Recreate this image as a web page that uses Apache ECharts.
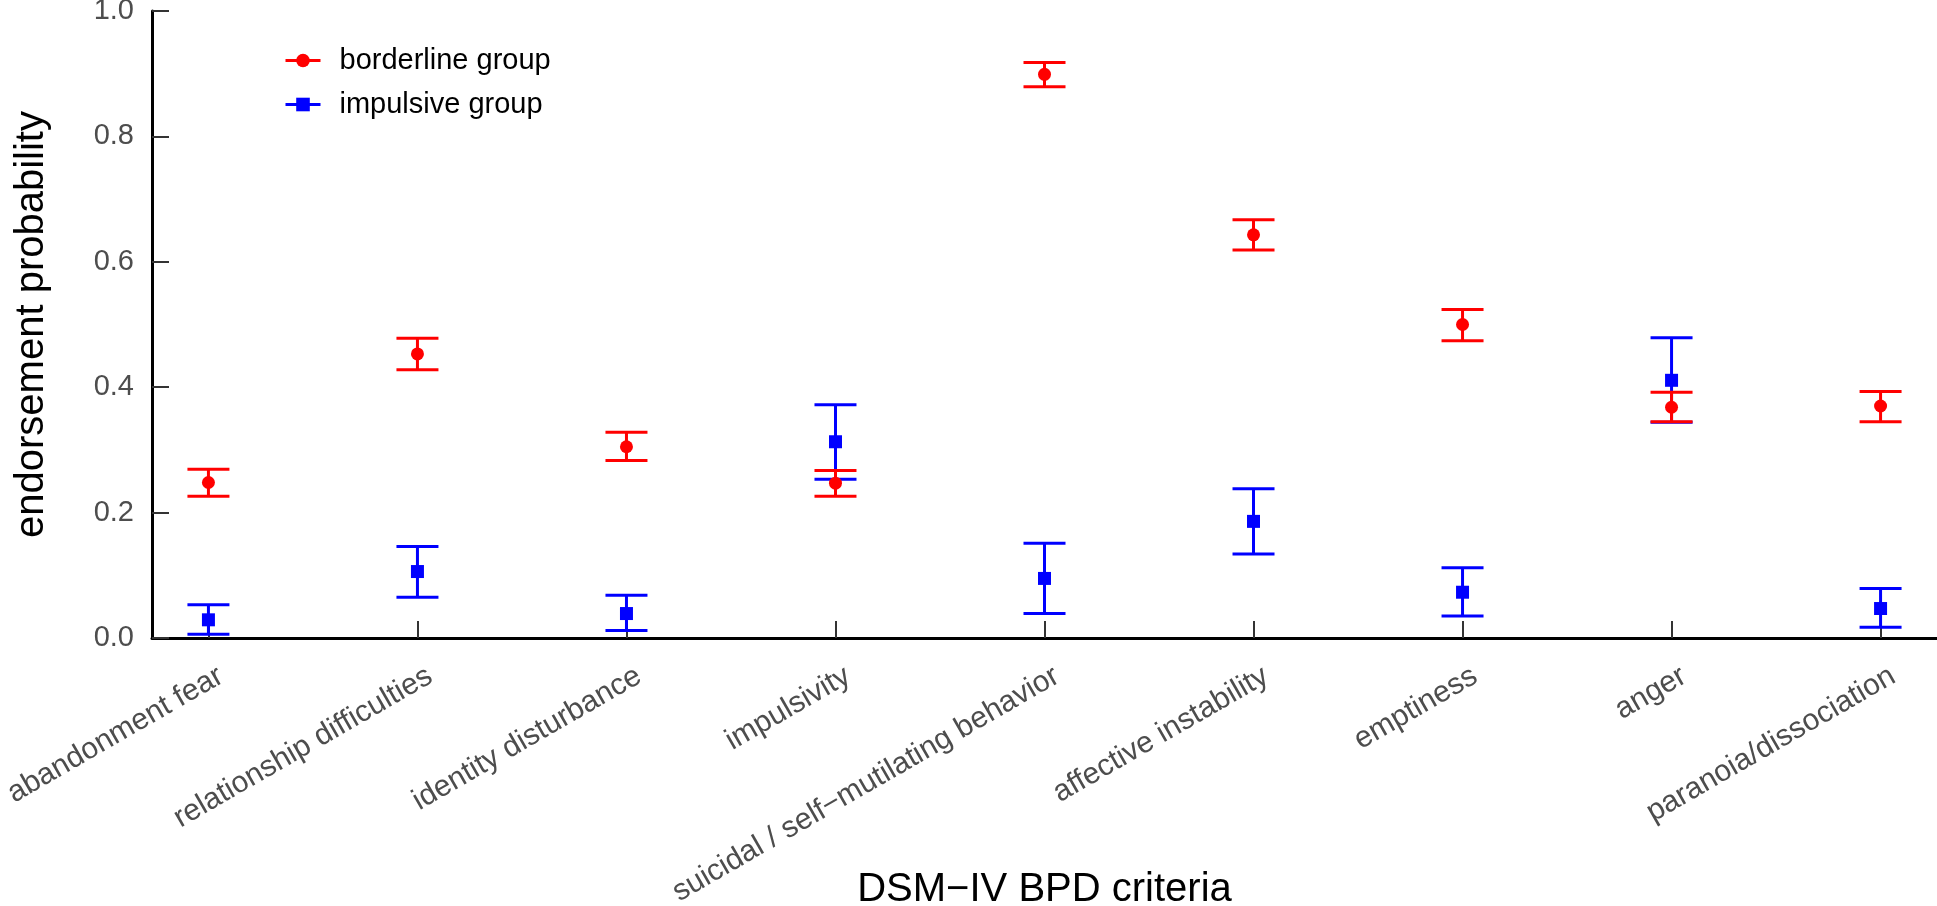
<!DOCTYPE html>
<html>
<head>
<meta charset="utf-8">
<script src="https://cdn.jsdelivr.net/npm/echarts@6/dist/echarts.min.js"></script>
<style>
  html, body { margin: 0; padding: 0; background: #fff; }
  #chart { width: 1937px; height: 906px; }
</style>
</head>
<body>
<div id="chart"></div>
<script>
const categories = [
  'abandonment fear',
  'relationship difficulties',
  'identity disturbance',
  'impulsivity',
  'suicidal / self\u2212mutilating behavior',
  'affective instability',
  'emptiness',
  'anger',
  'paranoia/dissociation',
];

// point estimates and interval ends
const borderline = [0.248, 0.453, 0.305, 0.247, 0.899, 0.643, 0.500, 0.368, 0.370];
const borderlineLow = [0.226, 0.428, 0.283, 0.226, 0.879, 0.619, 0.474, 0.345, 0.345];
const borderlineHigh = [0.269, 0.478, 0.328, 0.267, 0.918, 0.667, 0.524, 0.392, 0.393];

const impulsive = [0.029, 0.106, 0.039, 0.313, 0.095, 0.186, 0.073, 0.411, 0.047];
const impulsiveLow = [0.006, 0.065, 0.012, 0.253, 0.039, 0.134, 0.035, 0.344, 0.017];
const impulsiveHigh = [0.053, 0.146, 0.068, 0.372, 0.151, 0.238, 0.112, 0.479, 0.079];

const yTicks = [0, 0.2, 0.4, 0.6, 0.8, 1.0];

const RED = '#ff0000';
const BLUE = '#0000ff';
const FONT = "'Liberation Sans', Arial, Helvetica, sans-serif";

const positions = categories.map((c, i) => i + 1);
const labelShift = 0.06;

function errorBars(color) {
  return function (params, api) {
    const x = api.value(0);
    const lo = api.coord([x, api.value(1)]);
    const hi = api.coord([x, api.value(2)]);
    const half = 21;
    const style = { stroke: color, lineWidth: 3 };
    return {
      type: 'group',
      children: [
        { type: 'line', shape: { x1: lo[0], y1: lo[1], x2: hi[0], y2: hi[1] }, style },
        { type: 'line', shape: { x1: lo[0] - half, y1: lo[1], x2: lo[0] + half, y2: lo[1] }, style },
        { type: 'line', shape: { x1: hi[0] - half, y1: hi[1], x2: hi[0] + half, y2: hi[1] }, style },
      ],
    };
  };
}

const chart = echarts.init(document.getElementById('chart'));

chart.setOption({
  animation: false,
  backgroundColor: '#fff',
  textStyle: { fontFamily: FONT },
  grid: { left: 152, right: 0, top: 11, bottom: 268, containLabel: false, outerBoundsMode: 'none' },
  legend: {
    orient: 'vertical',
    left: 284,
    top: 46,
    padding: 0,
    itemWidth: 35,
    itemHeight: 17,
    itemGap: 15,
    textStyle: { fontSize: 29, color: '#000', fontFamily: FONT, padding: [0, 0, 0, 14] },
    data: [
      { name: 'borderline group', lineStyle: { color: RED, width: 3, opacity: 1 } },
      { name: 'impulsive group', lineStyle: { color: BLUE, width: 3, opacity: 1 } },
    ],
  },
  xAxis: {
    type: 'value',
    min: 0.73,
    max: 9.27,
    name: 'DSM\u2212IV BPD criteria',
    nameLocation: 'middle',
    nameGap: 232,
    nameMoveOverlap: false,
    nameTextStyle: { fontSize: 40, color: '#000', fontFamily: FONT },
    splitLine: { show: false },
    axisLine: { show: true, onZero: false, lineStyle: { color: '#000', width: 3 } },
    axisTick: {
      show: true,
      inside: true,
      length: 17,
      customValues: positions,
      lineStyle: { color: '#333', width: 2 },
    },
    axisLabel: {
      customValues: positions.map((p) => p + labelShift),
      rotate: 30,
      margin: 36,
      fontSize: 30,
      color: '#4d4d4d',
      fontFamily: FONT,
      formatter: (v) => categories[Math.round(v) - 1] || '',
    },
  },
  yAxis: {
    type: 'value',
    min: 0,
    max: 1,
    name: 'endorsement probability',
    nameLocation: 'middle',
    nameGap: 100,
    nameMoveOverlap: false,
    nameTextStyle: { fontSize: 40, color: '#000', fontFamily: FONT },
    splitLine: { show: false },
    axisLine: { show: true, lineStyle: { color: '#000', width: 3 } },
    axisTick: {
      show: true,
      inside: true,
      length: 17,
      customValues: yTicks,
      lineStyle: { color: '#333', width: 2 },
    },
    axisLabel: {
      customValues: yTicks,
      margin: 18,
      fontSize: 29,
      color: '#4d4d4d',
      fontFamily: FONT,
      formatter: (v) => v.toFixed(1),
    },
  },
  series: [
    {
      type: 'custom',
      renderItem: errorBars(BLUE),
      encode: { x: 0, y: [1, 2] },
      clip: false,
      silent: true,
      z: 2,
      data: positions.map((p, i) => [p, impulsiveLow[i], impulsiveHigh[i]]),
    },
    {
      type: 'custom',
      renderItem: errorBars(RED),
      encode: { x: 0, y: [1, 2] },
      clip: false,
      silent: true,
      z: 3,
      data: positions.map((p, i) => [p, borderlineLow[i], borderlineHigh[i]]),
    },
    {
      name: 'borderline group',
      type: 'line',
      symbol: 'circle',
      symbolSize: 13,
      showSymbol: true,
      itemStyle: { color: RED },
      lineStyle: { color: RED, width: 3, opacity: 0 },
      z: 5,
      data: positions.map((p, i) => [p, borderline[i]]),
    },
    {
      name: 'impulsive group',
      type: 'line',
      symbol: 'rect',
      symbolSize: 13,
      showSymbol: true,
      itemStyle: { color: BLUE },
      lineStyle: { color: BLUE, width: 3, opacity: 0 },
      z: 5,
      data: positions.map((p, i) => [p, impulsive[i]]),
    },
  ],
});
</script>
</body>
</html>
